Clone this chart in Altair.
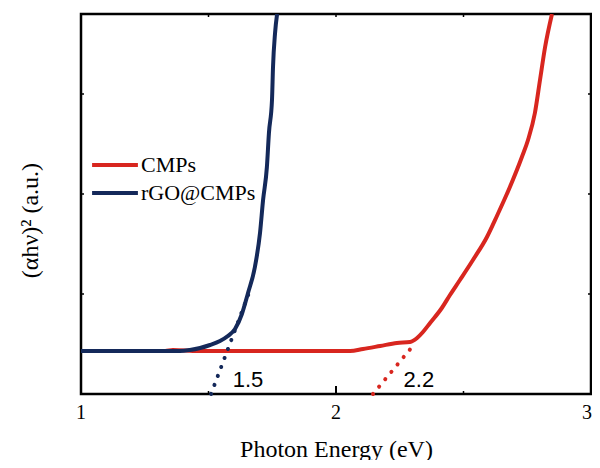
import altair as alt
import pandas as pd

# --- data ---
cmps_x = [1.00, 1.20, 1.33, 1.36, 1.46, 1.60, 1.80, 1.976, 2.055, 2.106, 2.173, 2.239, 2.290,
          2.318, 2.341, 2.369, 2.415, 2.447, 2.486, 2.537, 2.592, 2.631, 2.682, 2.729,
          2.753, 2.780, 2.800, 2.820, 2.847]
cmps_y = [0.43, 0.43, 0.43, 0.44, 0.43, 0.43, 0.43, 0.43, 0.43, 0.45, 0.48, 0.51, 0.52,
          0.56, 0.62, 0.71, 0.86, 0.99, 1.14, 1.34, 1.57, 1.78, 2.07, 2.37,
          2.54, 2.81, 3.14, 3.47, 3.80]

rgo_x = [1.00, 1.20, 1.388, 1.427, 1.467, 1.506, 1.545, 1.576, 1.604, 1.631, 1.655, 1.682,
         1.702, 1.714, 1.729, 1.737, 1.749, 1.753, 1.761, 1.769]
rgo_y = [0.43, 0.43, 0.43, 0.44, 0.46, 0.49, 0.53, 0.58, 0.65, 0.80, 1.01, 1.27,
         1.61, 1.94, 2.27, 2.61, 2.94, 3.27, 3.61, 3.80]

# tangent (band-gap extrapolation) lines
fit_series = ["rGO@CMPs", "rGO@CMPs", "CMPs", "CMPs"]
fit_x = [1.510, 1.663, 2.145, 2.298]
fit_y = [0.00, 1.04, 0.00, 0.47]

gap_labels = ["1.5", "2.2"]
gap_x = [1.655, 2.325]
gap_y = [0.14, 0.14]

series = ["CMPs", "rGO@CMPs"]
colors = ["#D8261F", "#14295A"]

x_tick_labels = ["1", "2"]
x_tick_pos = [1, 2]
x_last_label = ["3"]
x_last_pos = [3]
x_minor = [1.5, 2.5]
y_ticks = [1, 2, 3]

W, H = 510, 380
SERIF = "Liberation Serif, Times New Roman, Times, serif"
SANS = "Liberation Sans, Arial, Helvetica, sans-serif"

curves = pd.DataFrame({
    "series": ["CMPs"] * len(cmps_x) + ["rGO@CMPs"] * len(rgo_x),
    "x": cmps_x + rgo_x,
    "y": cmps_y + rgo_y,
})
fits = pd.DataFrame({"series": fit_series, "x": fit_x, "y": fit_y})
labels = pd.DataFrame({"t": gap_labels, "x": gap_x, "y": gap_y})

xs = alt.Scale(domain=[1, 3], nice=False, zero=False)
ys = alt.Scale(domain=[0, 3.8], nice=False, zero=False)
cs = alt.Scale(domain=series, range=colors)

xaxis = alt.Axis(labels=False, ticks=False, domain=False, grid=False,
                 title="Photon Energy (eV)",
                 titleFont=SERIF, titleFontSize=24, titleFontWeight="normal",
                 titleColor="black", titleY=62, titleBaseline="alphabetic")
yaxis = alt.Axis(labels=False, ticks=False, domain=False, grid=False,
                 title="(αhν)² (a.u.)", titleFont=SERIF, titleFontSize=24,
                 titleFontWeight="normal", titleColor="black", titleAngle=-90,
                 titleX=-51, titleY=206, titleBaseline="middle", titleAlign="center")

lines = alt.Chart(curves).mark_line(strokeWidth=4, clip=True, interpolate="monotone").encode(
    x=alt.X("x:Q", scale=xs, axis=xaxis),
    y=alt.Y("y:Q", scale=ys, axis=yaxis),
    color=alt.Color("series:N", scale=cs, sort=series,
                    legend=alt.Legend(title=None, orient="none", legendX=9, legendY=137,
                                      symbolType="stroke", symbolSize=2100,
                                      symbolStrokeWidth=4, clipHeight=28, rowPadding=0,
                                      labelFont=SERIF, labelFontSize=22,
                                      labelColor="black", labelOffset=1)),
    detail="series:N",
)

dots = alt.Chart(fits).mark_line(strokeWidth=4, strokeDash=[0.1, 9.5], strokeCap="round").encode(
    x=alt.X("x:Q", scale=xs),
    y=alt.Y("y:Q", scale=ys),
    color=alt.Color("series:N", scale=cs, legend=None),
    detail="series:N",
)

txt = alt.Chart(labels).mark_text(font=SANS, fontSize=22, color="black",
                                  baseline="middle", align="center").encode(
    x=alt.X("x:Q", scale=xs), y=alt.Y("y:Q", scale=ys), text="t:N")

# x tick labels
xlab = alt.Chart(pd.DataFrame({"x": x_tick_pos, "t": x_tick_labels})).mark_text(
    font=SERIF, fontSize=20, color="black", baseline="alphabetic", align="center").encode(
    x=alt.X("x:Q", scale=xs), y=alt.value(H + 25), text="t:N")
xlab_last = alt.Chart(pd.DataFrame({"x": x_last_pos, "t": x_last_label})).mark_text(
    font=SERIF, fontSize=20, color="black", baseline="alphabetic", align="right", dx=1).encode(
    x=alt.X("x:Q", scale=xs), y=alt.value(H + 25), text="t:N")

tick_major = alt.Chart(pd.DataFrame({"x": [2]})).mark_rule(color="black", strokeWidth=2).encode(
    x=alt.X("x:Q", scale=xs), y=alt.value(H), y2=alt.value(H - 8))
tick_minor_b = alt.Chart(pd.DataFrame({"x": x_minor})).mark_rule(color="black", strokeWidth=1.5).encode(
    x=alt.X("x:Q", scale=xs), y=alt.value(H), y2=alt.value(H - 3))
tick_top = alt.Chart(pd.DataFrame({"x": x_minor + [2]})).mark_rule(color="black", strokeWidth=1.5).encode(
    x=alt.X("x:Q", scale=xs), y=alt.value(0), y2=alt.value(3))
tick_left = alt.Chart(pd.DataFrame({"y": y_ticks})).mark_rule(color="black", strokeWidth=1.5).encode(
    y=alt.Y("y:Q", scale=ys), x=alt.value(0), x2=alt.value(3))
tick_right = alt.Chart(pd.DataFrame({"y": y_ticks})).mark_rule(color="black", strokeWidth=1.5).encode(
    y=alt.Y("y:Q", scale=ys), x=alt.value(W - 3), x2=alt.value(W))

chart = alt.layer(lines, dots, txt, xlab, xlab_last, tick_major, tick_minor_b, tick_top,
                  tick_left, tick_right).properties(
    width=W, height=H,
    autosize=alt.AutoSizeParams(type="none"),
    padding={"left": 73, "top": 6, "right": 1, "bottom": 66},
    background="white",
).configure_view(stroke="black", strokeWidth=2.5)

chart.save("out.html", embed_options={"renderer": "svg", "actions": False})
